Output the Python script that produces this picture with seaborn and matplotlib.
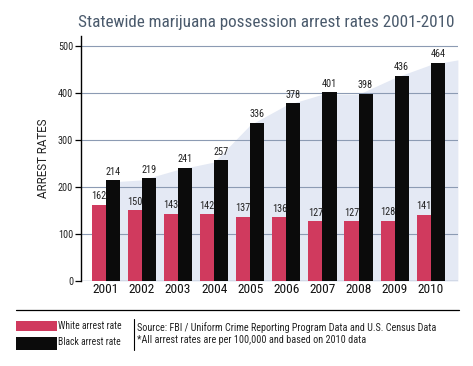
import matplotlib
matplotlib.use("Agg")
import matplotlib.pyplot as plt
import seaborn as sns
import pandas as pd
import numpy as np
from matplotlib.patches import Rectangle
from matplotlib.lines import Line2D

years = ["2001", "2002", "2003", "2004", "2005", "2006", "2007", "2008", "2009", "2010"]
white_rates = [162, 150, 143, 142, 137, 136, 127, 127, 128, 141]
black_rates = [214, 219, 241, 257, 336, 378, 401, 398, 436, 464]
series_names = ["White arrest rate", "Black arrest rate"]
y_ticks = [0, 100, 200, 300, 400, 500]

PINK = "#d03a5e"
BLACK = "#0b0b0b"
GRID = "#8c9bb3"
FILL = "#e4e9f4"
TITLE_C = "#4a5a6c"

df = pd.DataFrame({
    "year": years * 2,
    "rate": white_rates + black_rates,
    "race": [series_names[0]] * len(years) + [series_names[1]] * len(years),
})

sns.set_style("white")
plt.rcParams["font.family"] = ["Roboto Condensed", "Roboto", "DejaVu Sans"]

fig = plt.figure(figsize=(4.73, 3.66), dpi=100)
ax = fig.add_axes([0.171, 0.232, 0.797, 0.670])

# decorative background area following the black series
xs = np.arange(len(years))
env = np.maximum.accumulate(np.array(black_rates))
fx = np.concatenate([xs, [9.75]])
fy = np.concatenate([env - 4, [env[-1] + 6]])
ax.fill_between(fx, 0, fy, color=FILL, lw=0, zorder=0)

for t in y_ticks[1:]:
    ax.axhline(t, color=GRID, lw=0.8, zorder=0.5)
ax.axhline(0, color=GRID, lw=1.0, zorder=0.5)

sns.barplot(data=df, x="year", y="rate", hue="race", palette=[PINK, BLACK],
            width=0.78, dodge=True, saturation=1, legend=False, ax=ax,
            zorder=2, edgecolor="none", linewidth=0)

for cont, vals in zip(ax.containers, [white_rates, black_rates]):
    ax.bar_label(cont, labels=[str(v) for v in vals], padding=2.5,
                 fontsize=7.4, color="#222222")

ax.set_xlim(-0.69, 9.75)
ax.set_ylim(0, 521)
ax.set_yticks(y_ticks)
ax.set_yticklabels([str(t) for t in y_ticks], fontsize=7.3, color="#222222")
ax.tick_params(axis="y", length=4, width=0.9, color="black", pad=1.5, left=True)
ax.tick_params(axis="x", length=0, labelsize=9.6, pad=1.5, colors="#111111")
ax.set_xlabel("")
ax.set_ylabel("ARREST RATES", fontsize=8.3, color="#222222", labelpad=6,
              family=["Roboto", "DejaVu Sans"])
for s in ["top", "right", "bottom"]:
    ax.spines[s].set_visible(False)
ax.spines["left"].set_color("black")
ax.spines["left"].set_linewidth(1.0)
ax.grid(False)

fig.text(0.563, 0.938, "Statewide marijuana possession arrest rates 2001-2010",
         ha="center", va="center", fontsize=12.3, color=TITLE_C)

# footer
fig.add_artist(Line2D([16/473, 459/473], [1 - 310/366] * 2, color="black", lw=0.9))
fig.add_artist(Rectangle((16/473, 1 - 331/366), 41/473, 10/366, color=PINK, lw=0))
fig.add_artist(Rectangle((16/473, 1 - 350/366), 41/473, 13/366, color=BLACK, lw=0))
fig.text(58/473, 1 - 326/366, series_names[0], fontsize=6.9, va="center", color="#222222")
fig.text(58/473, 1 - 342/366, series_names[1], fontsize=6.9, va="center", color="#222222")
fig.add_artist(Line2D([134/473] * 2, [1 - 319/366, 1 - 350/366], color="black", lw=0.8))
fig.text(137/473, 1 - 328/366, "Source: FBI / Uniform Crime Reporting Program Data and U.S. Census Data",
         fontsize=7.3, va="center", color="#222222")
fig.text(137/473, 1 - 340/366, "*All arrest rates are per 100,000 and based on 2010 data",
         fontsize=7.3, va="center", color="#222222")

fig.savefig("out.png", dpi=100)
